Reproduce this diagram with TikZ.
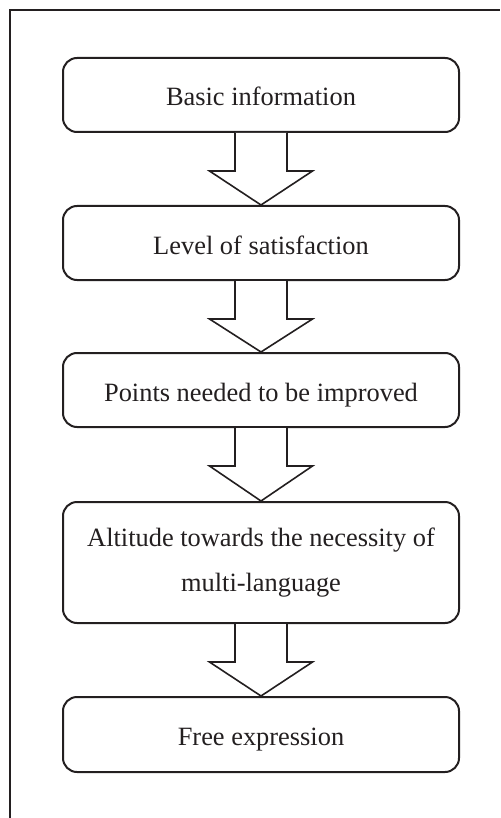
\documentclass[tikz,border=0pt]{standalone}
\usepackage{fontspec}
\setmainfont{Liberation Serif}
\usetikzlibrary{calc}
\definecolor{ink}{HTML}{231F20}
\tikzset{
  stagebox/.style={draw=ink, line width=2pt, rounded corners=14pt,
    minimum width=396pt, inner sep=0pt, text=ink,
    font=\fontsize{26.4pt}{45pt}\selectfont},
  onelinebox/.style={stagebox, minimum height=74pt, text height=22pt, text depth=0pt},
  flowarrow/.style={draw=ink, line width=1.6pt, line join=miter, fill=white},
  framerule/.style={draw=ink, line width=2pt}
}
\begin{document}
\begin{tikzpicture}[x=1pt,y=-1pt]
\useasboundingbox (0,0) rectangle (500,818);
\draw[framerule] (10,818) -- (10,10) -- (500,10);

\node[onelinebox] (b1) at (261,95) {Basic information};
\node[onelinebox] (b2) at (261,243) {Level of satisfaction};
\node[onelinebox] (b3) at (261,390) {Points needed to be improved};
\node[stagebox, minimum height=121pt, align=center] (b4) at (261,562.5)
  {Altitude towards the necessity of\\multi-language};
\node[onelinebox, minimum height=75pt] (b5) at (261,734.5) {Free expression};

\foreach \a/\b in {b1/b2, b2/b3, b3/b4, b4/b5}{
  \draw[flowarrow] ($(\a.south)+(-26,0)$) -- ++(0,38) -- ++(-25.5,0)
    -- (\b.north) -- ($(\a.south)+(51.5,38)$) -- ++(-25.5,0) -- ++(0,-38);
}
\end{tikzpicture}
\end{document}
